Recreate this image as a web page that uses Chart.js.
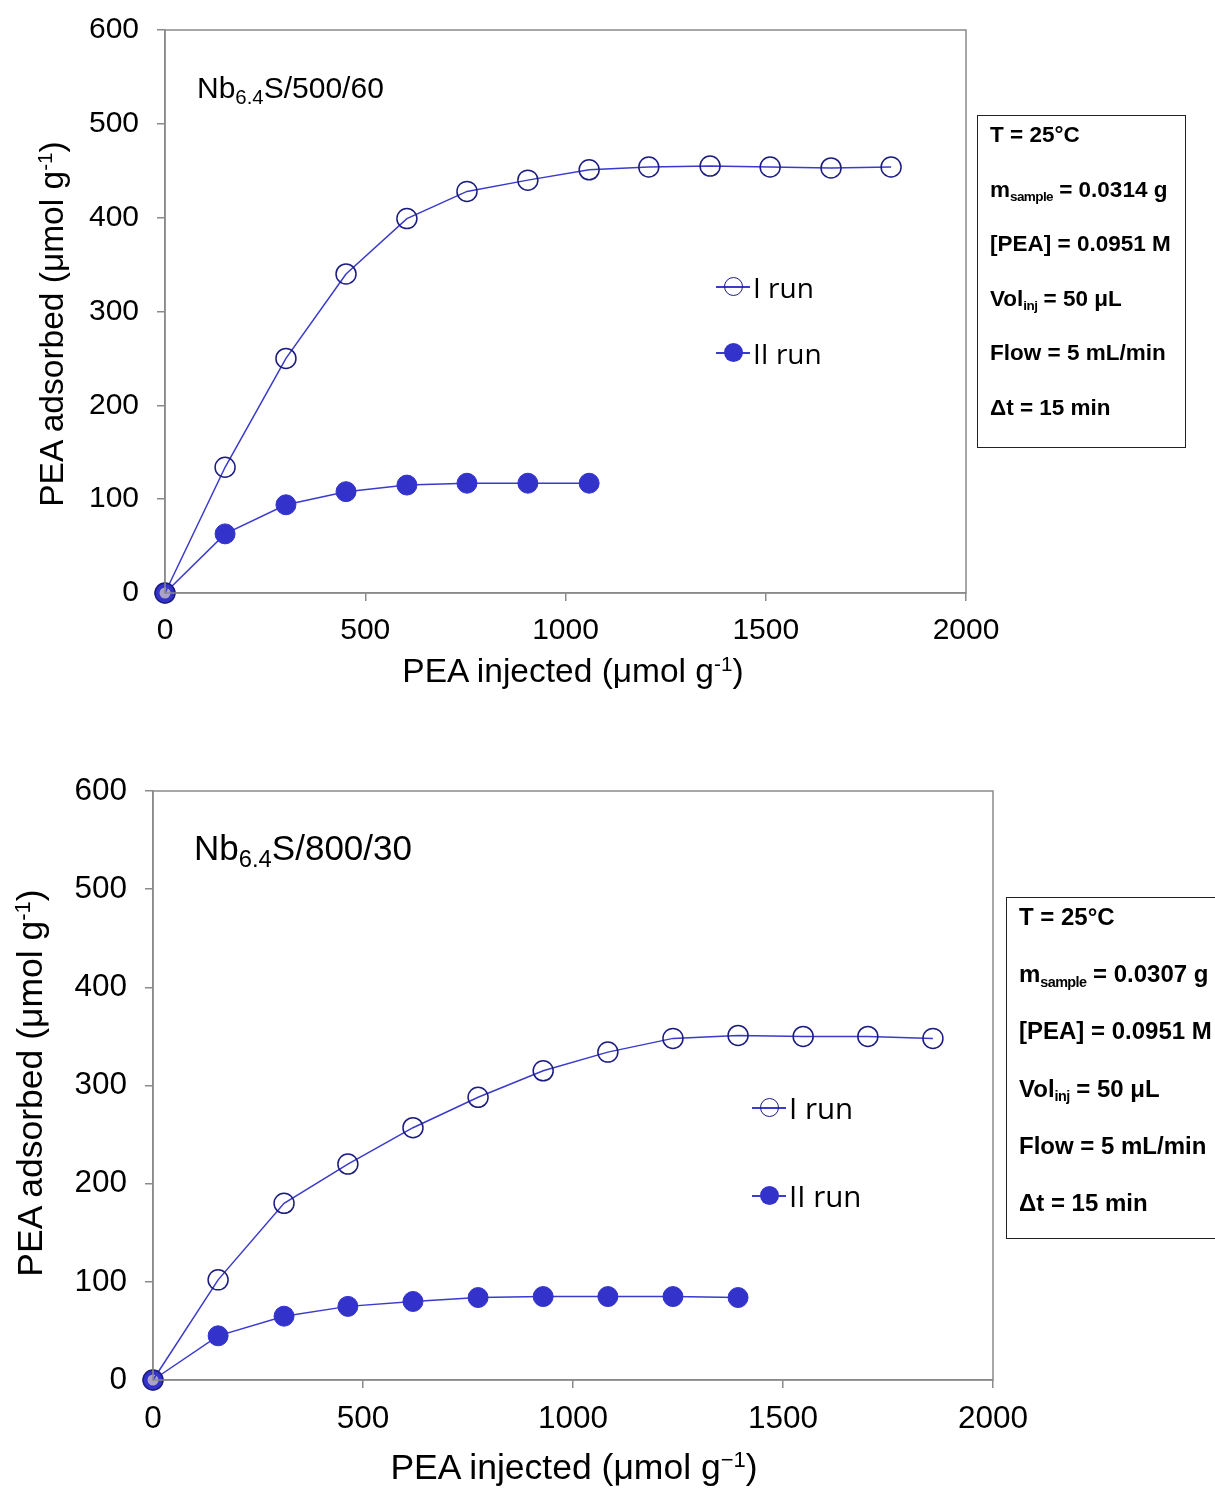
<!DOCTYPE html>
<html>
<head>
<meta charset="utf-8">
<script src="https://cdn.jsdelivr.net/npm/chart.js@4.4.0/dist/chart.umd.min.js"></script>
<style>
    body { margin: 0; background: #fff; }
    #page { position: relative; width: 1215px; height: 1488px; overflow: hidden; font-family: "Liberation Sans", Arial, sans-serif; color: #000; }
    canvas { position: absolute; left: 0; }
    .txt { position: absolute; white-space: nowrap; }
    .sup { position: relative; top: -0.55em; font-size: 0.62em; }
    .sub { position: relative; top: 0.3em; font-size: 0.68em; }
    .ytitle { position: absolute; width: 600px; height: 40px; line-height: 40px; text-align: center; transform: rotate(-90deg); white-space: nowrap; }
    .info { position: absolute; border: 1.5px solid #222; font-weight: bold; box-sizing: border-box; }
    .info .tiny { position: relative; top: 0.3em; font-size: 0.6em; letter-spacing: -0.6px; }
    .leg { position: absolute; font-family: "Open Sans", "Noto Sans", sans-serif; line-height: 36px; white-space: nowrap; }
    .mk { display: inline-block; position: relative; width: 37px; height: 36px; vertical-align: top; }
    .mk .ln { position: absolute; left: 0; right: 3px; top: 17px; height: 1.5px; background: #3a3acc; }
    .mk .dot { position: absolute; left: 8px; top: 8px; width: 19px; height: 19px; border-radius: 50%; box-sizing: border-box; }
</style>
</head>
<body>
<div id="page">
    <canvas id="chart-top" width="1215" height="710" style="top:-10px"></canvas>
    <canvas id="chart-bottom" width="1215" height="748" style="top:740px"></canvas>

    <!-- top panel texts -->
    <div class="txt" style="left:197px; top:70px; font-size:30px; line-height:36px;">Nb<span class="sub">6.4</span>S/500/60</div>
    <div class="txt" style="left:323px; top:652px; width:500px; text-align:center; font-size:33.5px; line-height:38px;">PEA injected (μmol g<span class="sup">-1</span>)</div>
    <div class="ytitle" style="left:-248px; top:304px; font-size:33.5px;">PEA adsorbed (μmol g<span class="sup">-1</span>)</div>
    <div class="info" id="info-top" style="left:977px; top:115px; width:209px; height:333px; font-size:22.5px;"></div>
    <div class="leg" style="left:716px; top:269px; font-size:28px;"><span class="mk"><span class="ln"></span><span class="dot" style="border:1.5px solid #1c1c80"></span></span>I run</div>
    <div class="leg" style="left:716px; top:335px; font-size:28px;"><span class="mk"><span class="ln"></span><span class="dot" style="background:#3333cc"></span></span>II run</div>

    <!-- bottom panel texts -->
    <div class="txt" style="left:194px; top:829px; font-size:35px; line-height:38px;">Nb<span class="sub">6.4</span>S/800/30</div>
    <div class="txt" style="left:324px; top:1447px; width:500px; text-align:center; font-size:35.5px; line-height:40px;">PEA injected (μmol g<span class="sup">−1</span>)</div>
    <div class="ytitle" style="left:-270px; top:1063px; font-size:35.5px;">PEA adsorbed (μmol g<span class="sup">-1</span>)</div>
    <div class="info" id="info-bottom" style="left:1006px; top:897px; width:240px; height:342px; font-size:24px;"></div>
    <div class="leg" style="left:752px; top:1090px; font-size:29.5px;"><span class="mk"><span class="ln"></span><span class="dot" style="border:1.5px solid #1c1c80"></span></span>I run</div>
    <div class="leg" style="left:752px; top:1178px; font-size:29.5px;"><span class="mk"><span class="ln"></span><span class="dot" style="background:#3333cc"></span></span>II run</div>
</div>

<script>
// Nb6.4S/500/60
const injectedTop = [0, 150, 302, 452, 604, 754, 906, 1059, 1208, 1361, 1511, 1663, 1813];
const run1Top = [0, 134, 250, 340, 399, 428, 440, 451, 454, 455, 454, 453, 454];
const run2Top = [0, 63, 94, 108, 115, 117, 117, 117];

// Nb6.4S/800/30
const injectedBottom = [0, 155, 312, 464, 619, 774, 929, 1083, 1238, 1393, 1548, 1702, 1857];
const run1Bottom = [0, 102, 180, 220, 257, 288, 315, 334, 348, 351, 350, 350, 348];
const run2Bottom = [0, 45, 65, 75, 80, 84, 85, 85, 85, 84];

const xTicks = [0, 500, 1000, 1500, 2000];
const yTicks = [0, 100, 200, 300, 400, 500, 600];

const infoTop = ["T = 25°C", "m<span class='tiny'>sample</span> = 0.0314 g", "[PEA] = 0.0951 M",
    "Vol<span class='tiny'>inj</span> = 50 μL", "Flow = 5 mL/min", "Δt = 15 min"];
const infoBottom = ["T = 25°C", "m<span class='tiny'>sample</span> = 0.0307 g", "[PEA] = 0.0951 M",
    "Vol<span class='tiny'>inj</span> = 50 μL", "Flow = 5 mL/min", "Δt = 15 min"];

function fillInfo(id, lines, firstCenter, step) {
    const box = document.getElementById(id);
    lines.forEach((line, i) => {
        const d = document.createElement("div");
        d.className = "txt";
        d.style.left = "12px";
        d.style.top = (firstCenter + i * step - 15) + "px";
        d.style.lineHeight = "30px";
        d.innerHTML = line;
        box.appendChild(d);
    });
}
fillInfo("info-top", infoTop, 19, 54.6);
fillInfo("info-bottom", infoBottom, 19, 57.2);

const lineColor = "#3a3acc";
const axisColor = "#8a8a8a";

const frame = {
    id: "frame",
    afterDraw(chart) {
        const { ctx, chartArea: a } = chart;
        ctx.save();
        ctx.strokeStyle = axisColor;
        ctx.lineWidth = 1.5;
        ctx.strokeRect(a.left, a.top, a.right - a.left, a.bottom - a.top);
        ctx.restore();
    }
};

function makeChart(canvasId, xs, run1, run2, pad, yWidth, xHeight, fontSize) {
    const pts = (ys) => ys.map((y, i) => ({ x: xs[i], y }));
    const firstOf = (n, first, normal) => Array.from({ length: n }, (_, i) => (i === 0 ? first : normal));
    return new Chart(document.getElementById(canvasId), {
        type: "scatter",
        data: {
            datasets: [
                {
                    label: "I run",
                    data: pts(run1),
                    showLine: true,
                    clip: false,
                    borderColor: lineColor,
                    borderWidth: 1.5,
                    pointRadius: 10,
                    pointBorderWidth: 1.5,
                    pointBorderColor: "#1c1c80",
                    pointBackgroundColor: "rgba(0,0,0,0)",
                },
                {
                    label: "II run",
                    data: pts(run2),
                    showLine: true,
                    clip: false,
                    borderColor: lineColor,
                    borderWidth: 1.5,
                    pointRadius: firstOf(run2.length, 8, 10),
                    pointBorderWidth: firstOf(run2.length, 5, 1),
                    pointBorderColor: "#3333cc",
                    pointBackgroundColor: firstOf(run2.length, "#aaa2c8", "#3333cc"),
                },
            ],
        },
        options: {
            responsive: false,
            animation: false,
            devicePixelRatio: 1,
            layout: { padding: pad },
            plugins: { legend: { display: false }, tooltip: { enabled: false } },
            scales: {
                x: {
                    type: "linear",
                    min: 0,
                    max: 2000,
                    afterBuildTicks: (s) => { s.ticks = xTicks.map((v) => ({ value: v })); },
                    afterFit: (s) => { s.height = xHeight; },
                    grid: { drawOnChartArea: false, color: axisColor, tickLength: 8, lineWidth: 1.5 },
                    border: { color: axisColor, width: 1.5 },
                    ticks: { color: "#000", padding: 12, maxRotation: 0, callback: (v) => String(v), font: { family: "Liberation Sans", size: fontSize } },
                },
                y: {
                    min: 0,
                    max: 600,
                    afterBuildTicks: (s) => { s.ticks = yTicks.map((v) => ({ value: v })); },
                    afterFit: (s) => { s.width = yWidth; },
                    grid: { drawOnChartArea: false, color: axisColor, tickLength: 8, lineWidth: 1.5 },
                    border: { color: axisColor, width: 1.5 },
                    ticks: { color: "#000", padding: 18, callback: (v) => String(v), font: { family: "Liberation Sans", size: fontSize } },
                },
            },
        },
        plugins: [frame],
    });
}

makeChart("chart-top", injectedTop, run1Top, run2Top, { top: 40, right: 249, bottom: 0, left: 0 }, 165, 107, 30);
makeChart("chart-bottom", injectedBottom, run1Bottom, run2Bottom, { top: 51, right: 222, bottom: 0, left: 0 }, 153, 108, 31.5);
</script>
</body>
</html>
